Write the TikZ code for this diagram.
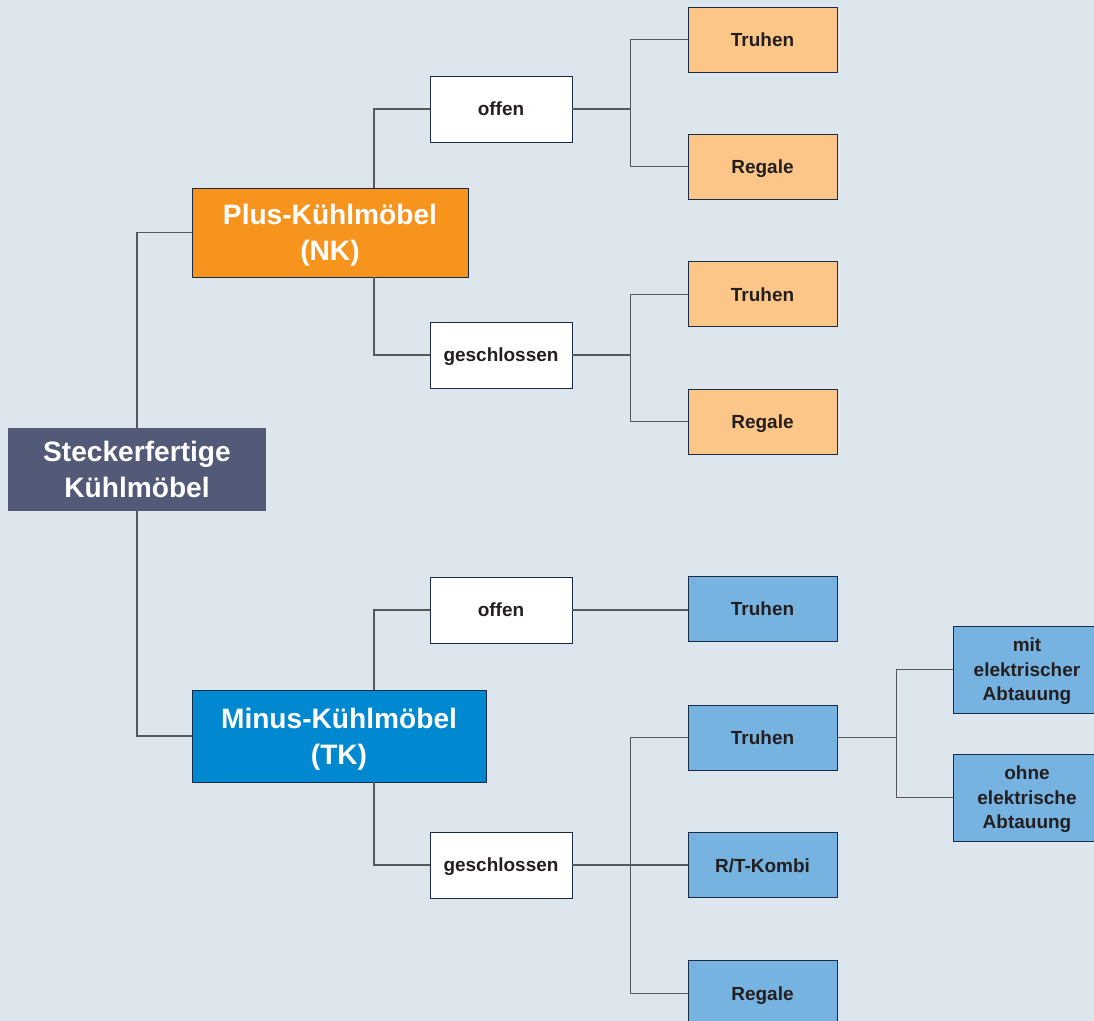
\documentclass[tikz,border=0pt]{standalone}
\usepackage{fontspec}
\setmainfont{Liberation Sans}
\usepackage{xcolor}
\usepackage{tikz}
\usetikzlibrary{positioning,calc}

\definecolor{bgcol}{HTML}{DDE6EC}
\definecolor{rootcol}{HTML}{525A78}
\definecolor{nkcol}{HTML}{F7941E}
\definecolor{nklight}{HTML}{FDC689}
\definecolor{tkcol}{HTML}{0088D0}
\definecolor{tklight}{HTML}{77B3E1}
\definecolor{edgecol}{HTML}{1B2A48}
\definecolor{linecol}{HTML}{55595E}
\definecolor{txtcol}{HTML}{231F20}

\begin{document}
\begin{tikzpicture}[
  base/.style={draw=edgecol, line width=0.5pt, rectangle, align=center, inner sep=2pt, text depth=0pt, text=txtcol, font=\bfseries\fontsize{10.8}{14}\selectfont},
  big/.style={base, text=white, font=\bfseries\fontsize{16}{20.5}\selectfont},
  root/.style={big, draw=none, fill=rootcol, minimum width=5.16cm, minimum height=1.66cm},
  nkbox/.style={big, fill=nkcol, minimum width=5.52cm, minimum height=1.78cm},
  tkbox/.style={big, fill=tkcol, minimum width=5.88cm, minimum height=1.84cm},
  cat/.style={base, fill=white, minimum width=2.84cm, minimum height=1.32cm},
  leafnk/.style={base, fill=nklight, minimum width=2.98cm, minimum height=1.30cm},
  leaftk/.style={base, fill=tklight, minimum width=2.98cm, minimum height=1.30cm},
  far/.style={base, fill=tklight, minimum width=2.96cm, minimum height=1.74cm},
  conn/.style={draw=linecol, line width=0.7pt},
  node distance=1.23cm
]

\fill[bgcol] (0,0) rectangle (21.88,-20.42);
\useasboundingbox (0,0) rectangle (21.88,-20.42);

\node[root] (root) at (2.74,-9.39) {Steckerfertige\\Kühlmöbel};

\node[nkbox] (nk) at (6.60,-4.65) {Plus-Kühlmöbel\\(NK)};

\node[tkbox] (tk) at (6.78,-14.72) {Minus-Kühlmöbel\\(TK)};

\coordinate (bus) at (7.48,0);

\node[cat] (nkoffen) at (10.02,-2.18) {offen};
\node[cat] (nkgeschl) at (10.02,-7.10) {geschlossen};
\node[cat] (tkoffen) at (10.02,-12.20) {offen};
\node[cat] (tkgeschl) at (10.02,-17.30) {geschlossen};

\node[leafnk] (nktruhen1) at (15.25,-0.79) {Truhen};
\node[leafnk, below=of nktruhen1] (nkregale1) {Regale};
\node[leafnk, below=of nkregale1] (nktruhen2) {Truhen};
\node[leafnk, below=of nktruhen2] (nkregale2) {Regale};

\node[leaftk] (tktruhen1) at (15.25,-12.18) {Truhen};
\node[leaftk] (tktruhen2) at (15.25,-14.75) {Truhen};
\node[leaftk, below=1.24cm of tktruhen2] (tkkombi) {R/T-Kombi};
\node[leaftk, below=1.24cm of tkkombi] (tkregale) {Regale};

\node[far] (mit) at (20.54,-13.39) {mit\\elektrischer\\Abtauung};
\node[far] (ohne) at (20.54,-15.95) {ohne\\elektrische\\Abtauung};

\draw[conn] (root.north) |- (nk.west);
\draw[conn] (root.south) |- (tk.west);

\draw[conn] (nk.north -| bus) |- (nkoffen.west);
\draw[conn] (nk.south -| bus) |- (nkgeschl.west);
\draw[conn] (tk.north -| bus) |- (tkoffen.west);
\draw[conn] (tk.south -| bus) |- (tkgeschl.west);

\draw[conn] (nkoffen.east) -- ++(1.16,0) |- (nktruhen1.west);
\draw[conn] (nkoffen.east) -- ++(1.16,0) |- (nkregale1.west);
\draw[conn] (nkgeschl.east) -- ++(1.16,0) |- (nktruhen2.west);
\draw[conn] (nkgeschl.east) -- ++(1.16,0) |- (nkregale2.west);

\draw[conn] (tkoffen.east) -- (tkoffen.east -| tktruhen1.west);
\draw[conn] (tkgeschl.east) -- ++(1.16,0) |- (tktruhen2.west);
\draw[conn] (tkgeschl.east) -- (tkgeschl.east -| tkkombi.west);
\draw[conn] (tkgeschl.east) -- ++(1.16,0) |- (tkregale.west);

\draw[conn] (tktruhen2.east) -- ++(1.18,0) |- (mit.west);
\draw[conn] (tktruhen2.east) -- ++(1.18,0) |- (ohne.west);

\end{tikzpicture}
\end{document}
